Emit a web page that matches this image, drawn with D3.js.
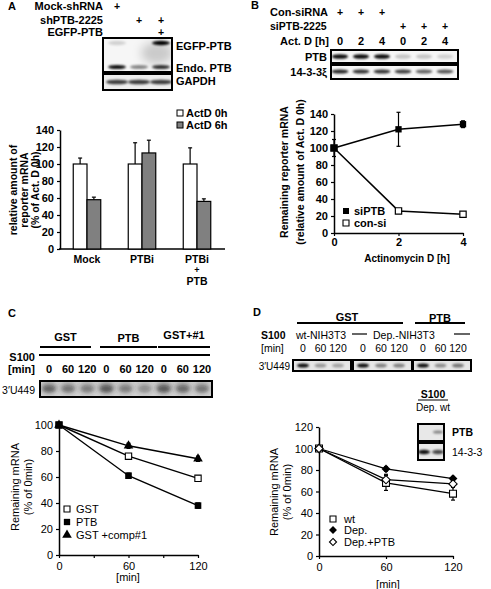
<!DOCTYPE html>
<html><head><meta charset="utf-8">
<script src="https://cdn.jsdelivr.net/npm/d3@7"></script>
<style>
body{margin:0;background:#fff}
svg{display:block;font-family:"Liberation Sans",Arial,Helvetica,sans-serif}
</style></head><body>
<svg id="fig" width="491" height="589"></svg>
<script>
// ================= DATA =================
// Panel A (bar chart)
const catsA = ["Mock", "PTBi", "PTBi+PTB"];
const seriesA = ["ActD 0h", "ActD 6h"];
const valsA0 = [100, 100, 100];
const errA0 = [7, 25, 19];
const valsA6 = [58, 113, 56];
const errA6 = [3, 15, 3];
const ticksA = [0, 20, 40, 60, 80, 100, 120, 140];
// Panel A blot
const lanesA = ["Mock-shRNA", "shPTB-2225", "shPTB-2225+EGFP-PTB"];
const egfpBandA = [0.15, 0.0, 1.0];
const endoBandA = [0.95, 0.45, 0.8];
const gapdhBandA = [0.75, 0.75, 0.75];

// Panel B (line chart)
const timeB = [0, 2, 4];
const siPTB = [100, 122, 128];
const siPTBerr = [10, 20, 4];
const conSi = [100, 26, 22];
const conSiErr = [1, 2, 2];
const ticksBy = [0, 20, 40, 60, 80, 100, 120, 140];
const ticksBx = [0, 2, 4];
// Panel B blot
const actDB = ["0", "2", "4", "0", "2", "4"];
const conB = ["+", "+", "+", "", "", ""];
const siB = ["", "", "", "+", "+", "+"];
const ptbBandB = [0.95, 0.95, 0.95, 0.2, 0.2, 0.15];
const b1433BandB = [0.85, 0.8, 0.8, 0.75, 0.6, 0.65];

// Panel C
const timeC = [0, 60, 120];
const gstC = [100, 76, 59];
const ptbC = [100, 61, 38];
const compC = [100, 84, 74];
const errC = [0, 2, 2];
const ticksCy = [0, 20, 40, 60, 80, 100];
const ticksCx = [0, 30, 60, 90, 120];
const groupsC = ["GST", "PTB", "GST+#1"];
const minC = ["0", "60", "120", "0", "60", "120", "0", "60", "120"];
const bandC = [0.55, 0.45, 0.4, 0.6, 0.4, 0.3, 0.6, 0.5, 0.45];

// Panel D
const timeD = [0, 60, 120];
const wtD = [100, 68, 58];
const wtErr = [2, 7, 6];
const depD = [100, 81, 72];
const depErr = [1, 2, 2];
const depPtbD = [100, 71, 67];
const depPtbErr = [1, 5, 3];
const ticksDy = [0, 20, 40, 60, 80, 100, 120];
const ticksDx = [0, 60, 120];
const minD = ["0", "60", "120"];
const bandD = [[0.95, 0.35, 0.3], [0.95, 0.45, 0.45], [0.95, 0.4, 0.5]];
const insetLanes = ["Dep.", "wt"];
const insetPTB = [0.0, 0.45];
const inset1433 = [0.95, 0.7];

// ================= HELPERS =================
const svg = d3.select("#fig");
const defs = svg.append("defs");
[0.8, 1.3, 2.5, 5].forEach((s, i) => {
  defs.append("filter").attr("id", "bl" + i).attr("x", "-50%").attr("y", "-100%")
    .attr("width", "200%").attr("height", "300%")
    .append("feGaussianBlur").attr("stdDeviation", s);
});
let clipN = 0;

function txt(x, y, s, o = {}) {
  const t = svg.append("text").attr("x", x).attr("y", y).text(s)
    .attr("font-size", o.size || 10.5)
    .attr("font-weight", o.weight || "bold")
    .attr("text-anchor", o.anchor || "start")
    .attr("dominant-baseline", "central")
    .attr("fill", "#000");
  if (o.rotate) t.attr("transform", `rotate(${o.rotate},${x},${y})`);
  return t;
}
function line(x1, y1, x2, y2, w = 1.5) {
  svg.append("line").attr("x1", x1).attr("y1", y1).attr("x2", x2).attr("y2", y2)
    .attr("stroke", "#000").attr("stroke-width", w);
}
// blot: box with blurred bands
function blot(x0, y0, x1, y1, lanesX, bands, o = {}) {
  const id = "clip" + (clipN++);
  defs.append("clipPath").attr("id", id).append("rect")
    .attr("x", x0).attr("y", y0).attr("width", x1 - x0).attr("height", y1 - y0);
  const g = svg.append("g").attr("clip-path", `url(#${id})`);
  g.append("rect").attr("x", x0).attr("y", y0).attr("width", x1 - x0).attr("height", y1 - y0)
    .attr("fill", o.bg || "#f4f4f4");
  bands.forEach(b => {
    b.vals.forEach((v, i) => {
      if (v <= 0) return;
      g.append("ellipse").attr("cx", lanesX[i]).attr("cy", b.y)
        .attr("rx", b.rx).attr("ry", b.ry)
        .attr("fill", b.color || "#000").attr("fill-opacity", v)
        .attr("filter", `url(#bl${b.blur == null ? 1 : b.blur})`);
    });
  });
  svg.append("rect").attr("x", x0).attr("y", y0).attr("width", x1 - x0).attr("height", y1 - y0)
    .attr("fill", "none").attr("stroke", "#000").attr("stroke-width", 2);
  return g;
}
function styleAxis(g, size, weight) {
  g.selectAll("path.domain").attr("stroke", "#000").attr("stroke-width", 1.5);
  g.selectAll(".tick line").attr("stroke", "#000").attr("stroke-width", 1.2);
  g.selectAll(".tick text").attr("font-size", size).attr("font-weight", weight)
    .attr("fill", "#000").attr("font-family", '"Liberation Sans",Arial,sans-serif');
}
function errBar(x, yTop, yBot, w = 5) {
  line(x, yTop, x, yBot, 1.2);
  line(x - w / 2, yTop, x + w / 2, yTop, 1.2);
  line(x - w / 2, yBot, x + w / 2, yBot, 1.2);
}
const sym = (type, size) => d3.symbol().type(type).size(size)();
const fmtInt = d3.format("d");

// ================= PANEL A =================
txt(8, 6, "A", { size: 11 });
const laneAx = d3.scalePoint().domain(lanesA).range([117, 161]);
txt(103, 6, "Mock-shRNA", { anchor: "end", size: 11 });
txt(103, 20, "shPTB-2225", { anchor: "end", size: 11 });
txt(103, 32, "EGFP-PTB", { anchor: "end", size: 11 });
txt(laneAx(lanesA[0]), 6, "+", { anchor: "middle" });
txt(laneAx(lanesA[1]), 20, "+", { anchor: "middle" });
txt(laneAx(lanesA[2]), 20, "+", { anchor: "middle" });
txt(laneAx(lanesA[2]), 32, "+", { anchor: "middle" });
const lxA = lanesA.map(d => laneAx(d));
{
  const g = blot(103, 38, 172, 72, lxA, [
    { y: 43, rx: 9, ry: 2.2, vals: egfpBandA, blur: 0 },
    { y: 67, rx: 9, ry: 2, vals: endoBandA, blur: 0 }
  ], { bg: "#f6f6f6" });
  // smear under EGFP band
  g.append("ellipse").attr("cx", lxA[2] - 4).attr("cy", 53).attr("rx", 16).attr("ry", 11)
    .attr("fill", "#000").attr("fill-opacity", 0.18).attr("filter", "url(#bl3)");
  blot(103, 74, 172, 90, lxA, [{ y: 82, rx: 11, ry: 2.3, vals: gapdhBandA, blur: 1 }], { bg: "#eeeeee" });
}
txt(176, 46, "EGFP-PTB", { size: 11 });
txt(176, 68, "Endo. PTB", { size: 11 });
txt(176, 81, "GAPDH", { size: 11 });

// legend A
svg.append("rect").attr("x", 177).attr("y", 110).attr("width", 6).attr("height", 6)
  .attr("fill", "#fff").attr("stroke", "#000").attr("stroke-width", 1);
svg.append("rect").attr("x", 177).attr("y", 122).attr("width", 6).attr("height", 6)
  .attr("fill", "#808080").attr("stroke", "#000").attr("stroke-width", 1);
txt(186, 113, seriesA[0], { size: 11 });
txt(186, 125, seriesA[1], { size: 11 });

const yA = d3.scaleLinear().domain([0, 140]).range([249, 130]);
const xA = d3.scaleBand().domain(catsA).range([59.5, 224.5]).paddingInner(0.5).paddingOuter(0.25);
const xAs = d3.scaleBand().domain(seriesA).range([0, xA.bandwidth()]);
{
  const ax = svg.append("g").attr("transform", "translate(60,0)")
    .call(d3.axisLeft(yA).tickValues(ticksA).tickSize(3).tickSizeOuter(0));
  styleAxis(ax, 11, "bold");
  line(59, 249, 225, 249, 1.5);
  [valsA0, valsA6].forEach((vals, si) => {
    const errs = si === 0 ? errA0 : errA6;
    catsA.forEach((c, i) => {
      const x = xA(c) + xAs(seriesA[si]);
      const w = xAs.bandwidth();
      svg.append("rect").attr("x", x).attr("y", yA(vals[i])).attr("width", w)
        .attr("height", yA(0) - yA(vals[i]))
        .attr("fill", si === 0 ? "#fff" : "#808080").attr("stroke", "#000").attr("stroke-width", 1.2);
      const cx = x + w / 2;
      line(cx, yA(vals[i]), cx, yA(vals[i] + errs[i]), 1.2);
      line(cx - 2, yA(vals[i] + errs[i]), cx + 2, yA(vals[i] + errs[i]), 1.2);
    });
  });
  txt(xA("Mock") + xA.bandwidth() / 2, 259, "Mock", { anchor: "middle", size: 10.5 });
  txt(xA("PTBi") + xA.bandwidth() / 2, 259, "PTBi", { anchor: "middle", size: 10.5 });
  const cx3 = xA("PTBi+PTB") + xA.bandwidth() / 2;
  txt(cx3, 259, "PTBi", { anchor: "middle", size: 10.5 });
  txt(cx3, 270, "+", { anchor: "middle", size: 9 });
  txt(cx3, 281, "PTB", { anchor: "middle", size: 10.5 });
  txt(13, 190, "relative amount of", { anchor: "middle", rotate: -90, size: 10.5 });
  txt(24, 190, "reporter mRNA", { anchor: "middle", rotate: -90, size: 10.5 });
  txt(35, 190, "(% of Act. D 0h)", { anchor: "middle", rotate: -90, size: 10.5 });
}

// ================= PANEL B =================
txt(251, 5, "B", { size: 11 });
const laneBx = d3.scalePoint().domain(d3.range(6)).range([340, 445]);
const lxB = d3.range(6).map(i => laneBx(i));
txt(270, 12, "Con-siRNA", { size: 11 });
txt(270, 26, "siPTB-2225", { size: 10.5 });
txt(329, 41, "Act. D [h]", { anchor: "end", size: 11 });
d3.range(6).forEach(i => {
  if (conB[i]) txt(lxB[i], 12, conB[i], { anchor: "middle" });
  if (siB[i]) txt(lxB[i], 26, siB[i], { anchor: "middle" });
  txt(lxB[i], 41, actDB[i], { anchor: "middle", size: 11 });
});
blot(331, 50, 458, 63, lxB, [{ y: 56.5, rx: 8, ry: 2.3, vals: ptbBandB, blur: 0 }], { bg: "#f6f6f6" });
blot(331, 65, 458, 79, lxB, [{ y: 71.5, rx: 8.5, ry: 2, vals: b1433BandB, blur: 0 }], { bg: "#f6f6f6" });
txt(327, 57, "PTB", { anchor: "end", size: 11 });
txt(327, 72, "14-3-3ξ", { anchor: "end", size: 11 });

const xB = d3.scaleLinear().domain([0, 4]).range([334, 463]);
const yB = d3.scaleLinear().domain([0, 140]).range([233, 114]);
{
  const ay = svg.append("g").attr("transform", "translate(334,0)")
    .call(d3.axisLeft(yB).tickValues(ticksBy).tickSize(3).tickSizeOuter(0));
  styleAxis(ay, 11, "bold");
  const axx = svg.append("g").attr("transform", "translate(0,233)")
    .call(d3.axisBottom(xB).tickValues(ticksBx).tickSize(3).tickSizeOuter(0).tickPadding(2).tickFormat(fmtInt));
  styleAxis(axx, 11, "bold");
  const ln = d3.line().x((d, i) => xB(timeB[i])).y(d => yB(d));
  svg.append("path").attr("d", ln(conSi)).attr("fill", "none").attr("stroke", "#000").attr("stroke-width", 1.5);
  svg.append("path").attr("d", ln(siPTB)).attr("fill", "none").attr("stroke", "#000").attr("stroke-width", 1.5);
  timeB.forEach((t, i) => {
    errBar(xB(t), yB(siPTB[i] + siPTBerr[i]), yB(siPTB[i] - siPTBerr[i]), 4);
    errBar(xB(t), yB(conSi[i] + conSiErr[i]), yB(conSi[i] - conSiErr[i]), 4);
  });
  timeB.forEach((t, i) => {
    svg.append("path").attr("d", sym(d3.symbolSquare, 40))
      .attr("transform", `translate(${xB(t)},${yB(conSi[i])})`)
      .attr("fill", "#fff").attr("stroke", "#000").attr("stroke-width", 1.2);
    svg.append("path").attr("d", sym(d3.symbolSquare, 40))
      .attr("transform", `translate(${xB(t)},${yB(siPTB[i])})`)
      .attr("fill", "#000");
  });
  svg.append("path").attr("d", sym(d3.symbolSquare, 36)).attr("transform", "translate(346,211)").attr("fill", "#000");
  svg.append("path").attr("d", sym(d3.symbolSquare, 36)).attr("transform", "translate(346,223)")
    .attr("fill", "#fff").attr("stroke", "#000").attr("stroke-width", 1.1);
  txt(354, 211, "siPTB", { size: 11 });
  txt(354, 223, "con-si", { size: 11 });
  txt(407, 258, "Actinomycin D [h]", { anchor: "middle", size: 10 });
  txt(284, 172, "Remaining reporter mRNA", { anchor: "middle", rotate: -90, size: 10.5 });
  txt(300, 172, "(relative amount of Act. D 0h)", { anchor: "middle", rotate: -90, size: 10.5 });
}

// ================= PANEL C =================
txt(8, 313, "C", { size: 11 });
const laneCx = d3.scalePoint().domain(d3.range(9)).range([49, 202]);
const lxC = d3.range(9).map(i => laneCx(i));
const grpC = [[40, 91], [100, 157], [158, 210]];
const grpCy = [337, 338, 335];
groupsC.forEach((gname, i) => {
  txt((grpC[i][0] + grpC[i][1]) / 2, grpCy[i], gname, { anchor: "middle", size: 11 });
  line(grpC[i][0], 347, grpC[i][1], 347, 1.8);
});
line(39, 355, 210, 355, 1.8);
txt(35, 357, "S100", { anchor: "end", size: 11 });
txt(35, 369, "[min]", { anchor: "end", size: 11 });
minC.forEach((m, i) => txt(lxC[i], 369, m, { anchor: "middle", size: 11 }));
blot(40, 381, 212, 397, lxC, [
  { y: 388, rx: 8, ry: 5.5, vals: bandC, blur: 2, color: "#333" },
  { y: 389, rx: 6, ry: 3, vals: bandC.map(v => v * 0.5), blur: 1, color: "#222" }
], { bg: "#d4d4d4" });
txt(35, 390, "3′U449", { anchor: "end", size: 10.5, weight: "normal" });

const xC = d3.scaleLinear().domain([0, 120]).range([59, 198]);
const yC = d3.scaleLinear().domain([0, 100]).range([555, 425]);
{
  const ay = svg.append("g").attr("transform", "translate(59,0)")
    .call(d3.axisLeft(yC).tickValues(ticksCy).tickSize(3).tickSizeOuter(0));
  styleAxis(ay, 11, "normal");
  const axx = svg.append("g").attr("transform", "translate(0,555)")
    .call(d3.axisBottom(xC).tickValues(ticksCx).tickSize(3).tickSizeOuter(0).tickPadding(4)
      .tickFormat(d => (d % 60 === 0 ? d : "")));
  styleAxis(axx, 11, "normal");
  const ln = d3.line().x((d, i) => xC(timeC[i])).y(d => yC(d));
  [gstC, ptbC, compC].forEach(s => svg.append("path").attr("d", ln(s)).attr("fill", "none")
    .attr("stroke", "#000").attr("stroke-width", 1.4));
  timeC.forEach((t, i) => {
    [gstC, ptbC, compC].forEach(s => { if (errC[i]) errBar(xC(t), yC(s[i] + errC[i]), yC(s[i] - errC[i]), 4); });
    svg.append("path").attr("d", sym(d3.symbolSquare, 40)).attr("transform", `translate(${xC(t)},${yC(gstC[i])})`)
      .attr("fill", "#fff").attr("stroke", "#000").attr("stroke-width", 1.1);
    svg.append("path").attr("d", sym(d3.symbolSquare, 44)).attr("transform", `translate(${xC(t)},${yC(ptbC[i])})`)
      .attr("fill", "#000");
    svg.append("path").attr("d", sym(d3.symbolTriangle, 40)).attr("transform", `translate(${xC(t)},${yC(compC[i])})`)
      .attr("fill", "#000");
  });
  svg.append("path").attr("d", sym(d3.symbolSquare, 36)).attr("transform", "translate(67,509)")
    .attr("fill", "#fff").attr("stroke", "#000").attr("stroke-width", 1.1);
  svg.append("path").attr("d", sym(d3.symbolSquare, 40)).attr("transform", "translate(67,522)").attr("fill", "#000");
  svg.append("path").attr("d", sym(d3.symbolTriangle, 40)).attr("transform", "translate(67,535)").attr("fill", "#000");
  txt(76, 509, "GST", { size: 11, weight: "normal" });
  txt(76, 522, "PTB", { size: 11, weight: "normal" });
  txt(76, 535, "GST +comp#1", { size: 11, weight: "normal" });
  txt(128, 577, "[min]", { anchor: "middle", size: 11, weight: "normal" });
  txt(15, 487, "Remaining mRNA", { anchor: "middle", rotate: -90, size: 11, weight: "normal" });
  txt(28, 487, "(% of 0min)", { anchor: "middle", rotate: -90, size: 11, weight: "normal" });
}

// ================= PANEL D =================
txt(253, 312, "D", { size: 11 });
txt(347, 317, "GST", { anchor: "middle", size: 11 });
line(297, 323, 403, 323, 1.8);
txt(440, 318, "PTB", { anchor: "middle", size: 11 });
line(415, 323, 465, 323, 1.8);
txt(261, 335, "S100", { size: 10.5 });
txt(261, 348, "[min]", { size: 10.5, weight: "normal" });
txt(296, 335, "wt-NIH3T3", { size: 10.5, weight: "normal" });
line(352, 334, 367, 334, 1.2);
txt(373, 335, "Dep.-NIH3T3", { size: 10.5, weight: "normal" });
line(454, 334, 470, 334, 1.2);
const boxesD = [[293, 351], [353, 412], [413, 471]];
boxesD.forEach((b, k) => {
  const lx = d3.scalePoint().domain(minD).range([b[0] + 10, b[1] - 13]);
  const xs = minD.map(m => lx(m));
  minD.forEach((m, i) => txt(xs[i], 348, m, { anchor: "middle", size: 10.5, weight: "normal" }));
  blot(b[0], 360, b[1], 371, xs, [{ y: 365.5, rx: 6, ry: 2, vals: bandD[k], blur: 0 }], { bg: "#e6e6e6" });
});
txt(290, 366, "3′U449", { anchor: "end", size: 10, weight: "normal" });
// inset
txt(433, 394, "S100", { anchor: "middle", size: 10.5 });
line(418, 400, 448, 400, 1);
txt(433, 407, "Dep. wt", { anchor: "middle", size: 10, weight: "normal" });
{
  const lx = d3.scalePoint().domain(insetLanes).range([424, 438]);
  const xs = insetLanes.map(d => lx(d));
  blot(418, 424, 444, 441, xs, [{ y: 432, rx: 5, ry: 1.5, vals: insetPTB, blur: 0 }], { bg: "#e8e8e8" });
  blot(418, 443, 444, 460, xs, [{ y: 452, rx: 6, ry: 2.2, vals: inset1433, blur: 0 }], { bg: "#e8e8e8" });
  txt(452, 432, "PTB", { size: 10.5 });
  txt(452, 452, "14-3-3", { size: 10.5, weight: "normal" });
}
const xD = d3.scaleLinear().domain([0, 120]).range([319, 453]);
const yD = d3.scaleLinear().domain([0, 120]).range([556, 427]);
{
  const ay = svg.append("g").attr("transform", "translate(319,0)")
    .call(d3.axisLeft(yD).tickValues(ticksDy).tickSize(3).tickSizeOuter(0));
  styleAxis(ay, 11, "normal");
  const axx = svg.append("g").attr("transform", "translate(0,556)")
    .call(d3.axisBottom(xD).tickValues(ticksDx).tickSize(3).tickSizeOuter(0).tickPadding(4));
  styleAxis(axx, 11, "normal");
  const ln = d3.line().x((d, i) => xD(timeD[i])).y(d => yD(d));
  [wtD, depD, depPtbD].forEach(s => svg.append("path").attr("d", ln(s)).attr("fill", "none")
    .attr("stroke", "#000").attr("stroke-width", 1.3));
  timeD.forEach((t, i) => {
    errBar(xD(t), yD(wtD[i] + wtErr[i]), yD(wtD[i] - wtErr[i]), 4);
    errBar(xD(t), yD(depD[i] + depErr[i]), yD(depD[i] - depErr[i]), 4);
    errBar(xD(t), yD(depPtbD[i] + depPtbErr[i]), yD(depPtbD[i] - depPtbErr[i]), 4);
    svg.append("path").attr("d", sym(d3.symbolSquare, 48)).attr("transform", `translate(${xD(t)},${yD(wtD[i])})`)
      .attr("fill", "#fff").attr("stroke", "#000").attr("stroke-width", 1.1);
    svg.append("path").attr("d", sym(d3.symbolDiamond2, 50)).attr("transform", `translate(${xD(t)},${yD(depD[i])})`)
      .attr("fill", "#000");
    svg.append("path").attr("d", sym(d3.symbolDiamond2, 44)).attr("transform", `translate(${xD(t)},${yD(depPtbD[i])})`)
      .attr("fill", "#fff").attr("stroke", "#000").attr("stroke-width", 1.1);
  });
  svg.append("path").attr("d", sym(d3.symbolSquare, 36)).attr("transform", "translate(333,519)")
    .attr("fill", "#fff").attr("stroke", "#000").attr("stroke-width", 1.1);
  svg.append("path").attr("d", sym(d3.symbolDiamond2, 40)).attr("transform", "translate(333,530)").attr("fill", "#000");
  svg.append("path").attr("d", sym(d3.symbolDiamond2, 32)).attr("transform", "translate(333,542)")
    .attr("fill", "#fff").attr("stroke", "#000").attr("stroke-width", 1.1);
  txt(344, 519, "wt", { size: 11, weight: "normal" });
  txt(344, 530, "Dep.", { size: 11, weight: "normal" });
  txt(344, 542, "Dep.+PTB", { size: 11, weight: "normal" });
  txt(388, 584, "[min]", { anchor: "middle", size: 11, weight: "normal" });
  txt(274, 492, "Remaining mRNA", { anchor: "middle", rotate: -90, size: 11, weight: "normal" });
  txt(287, 492, "(% of 0min)", { anchor: "middle", rotate: -90, size: 11, weight: "normal" });
}
</script>
</body></html>
